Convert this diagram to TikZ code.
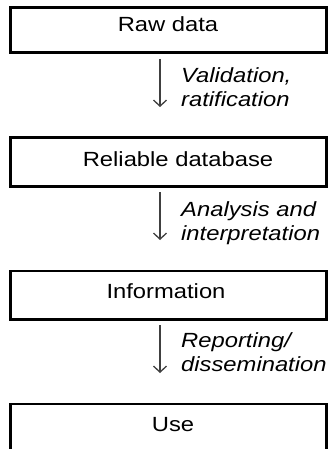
\documentclass[tikz,border=0pt]{standalone}
\usepackage{fontspec}
\setmainfont[FakeStretch=1.16]{Liberation Sans}
\usetikzlibrary{arrows.meta}
\tikzset{
  stagebox/.style={draw=black, line width=2.6pt, minimum width=316pt, inner sep=0pt},
  stagetext/.style={anchor=base, font=\fontsize{20.5}{24}\selectfont, inner sep=0pt},
  steptext/.style={anchor=base west, font=\fontsize{20.5}{24}\selectfont\itshape, inner sep=0pt},
  flow/.style={draw=black!75, line width=1.3pt, -{Straight Barb[length=6pt,width=13pt,line width=1.3pt]}}
}
\begin{document}
\begin{tikzpicture}[x=1pt, y=-1pt]
  \clip (0,0) rectangle (330,449);
  \fill[white] (0,0) rectangle (330,449);

  % stage boxes
  \node[stagebox, minimum height=45pt]   (raw)  at (168.5,30)     {};
  \node[stagebox, minimum height=49pt]   (rel)  at (168.5,162)    {};
  \node[stagebox, minimum height=48.5pt] (info) at (168.5,295.25) {};
  \node[stagebox, minimum height=100pt]  (use)  at (168.5,454)    {};

  % stage names
  \node[stagetext] (rawt)  at (168,32)    {Raw data};
  \node[stagetext] (relt)  at (178,167)   {Reliable database};
  \node[stagetext] (infot) at (166,298)   {Information};
  \node[stagetext] (uset)  at (173,431.5) {Use};

  % arrow ends between stages
  \coordinate (a1s) at (160,59);  \coordinate (a1e) at (160,107);
  \coordinate (a2s) at (160,192); \coordinate (a2e) at (160,240);
  \coordinate (a3s) at (160,325); \coordinate (a3e) at (160,373);
  \draw[flow] (a1s) -- (a1e);
  \draw[flow] (a2s) -- (a2e);
  \draw[flow] (a3s) -- (a3e);

  % processing steps
  \node[steptext] (s1a) at (181,83)  {Validation,};
  \node[steptext] (s1b) at (181,107) {ratification};
  \node[steptext] (s2a) at (181,216) {Analysis and};
  \node[steptext] (s2b) at (181,240) {interpretation};
  \node[steptext] (s3a) at (181,347) {Reporting/};
  \node[steptext] (s3b) at (181,371) {dissemination};
\end{tikzpicture}
\end{document}
